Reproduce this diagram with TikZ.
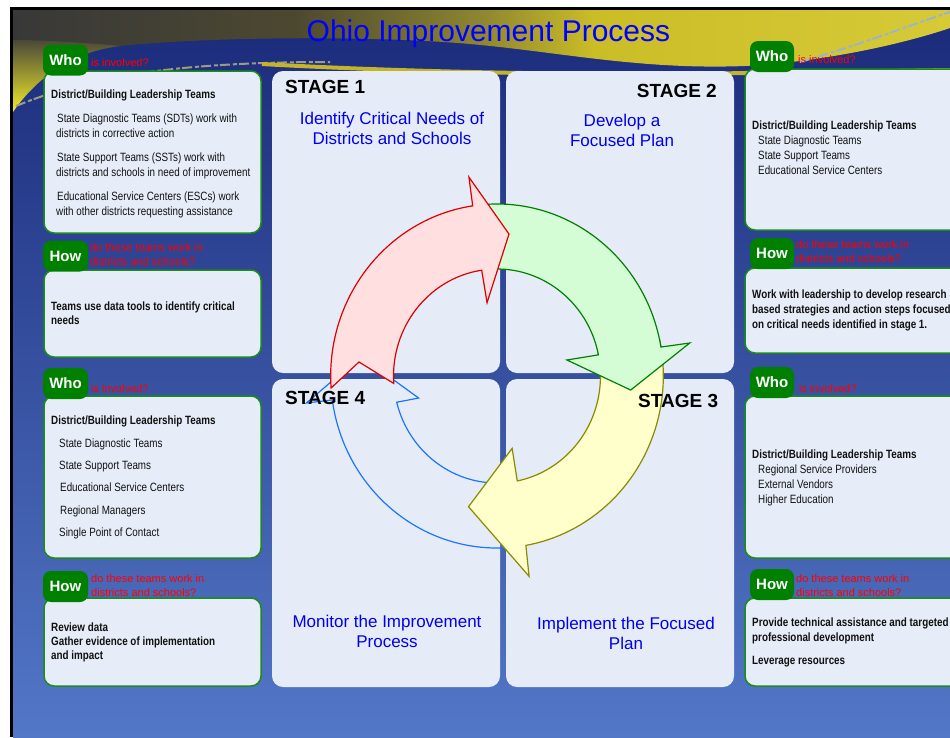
\documentclass[tikz,border=0pt]{standalone}
\usepackage{fontspec}
\setmainfont{Liberation Sans}
\newfontfamily\nar[FakeStretch=0.82]{Liberation Sans}
\definecolor{bgtop}{HTML}{1B2A7A}
\definecolor{bgmid}{HTML}{36509F}
\definecolor{bgbot}{HTML}{5377C7}
\definecolor{tbA}{HTML}{383838}
\definecolor{tbB}{HTML}{4C4830}
\definecolor{tbC}{HTML}{8E8630}
\definecolor{tbD}{HTML}{CBBD26}
\definecolor{tbE}{HTML}{D6CA38}
\definecolor{glowtop}{HTML}{4A4838}
\definecolor{glowbot}{HTML}{F2EC2A}
\definecolor{ystrip}{HTML}{C4B42A}
\definecolor{panelc}{HTML}{E6ECF7}
\definecolor{boxc}{HTML}{E7EDF8}
\definecolor{boxg}{HTML}{1B8C1B}
\definecolor{badgeg}{HTML}{008000}
\definecolor{qred}{HTML}{FF0000}
\definecolor{stblue}{HTML}{0000EE}
\definecolor{ttblue}{HTML}{0000FF}
\definecolor{bodyk}{HTML}{111111}
\definecolor{redS}{HTML}{DD0000}
\definecolor{redF}{HTML}{FFDFE0}
\definecolor{grnS}{HTML}{008000}
\definecolor{grnF}{HTML}{D5FDD5}
\definecolor{yelS}{HTML}{8A8A00}
\definecolor{yelF}{HTML}{FFFFCC}
\definecolor{bluS}{HTML}{1A75FF}
\definecolor{sparkA}{HTML}{9C9C84}
\definecolor{sparkB}{HTML}{9AB4D0}
\pgfdeclarehorizontalshading{topband}{100bp}{color(0bp)=(tbA); color(25bp)=(tbA); color(40bp)=(tbB); color(50bp)=(tbC); color(56bp)=(tbD); color(75bp)=(tbE); color(100bp)=(tbE)}
\begin{document}
\begin{tikzpicture}[x=1pt,y=-1pt,
  panel/.style={fill=panelc, rounded corners=11pt},
  infobox/.style={fill=boxc, draw=boxg, line width=1.5pt, rounded corners=10pt},
  badge/.style={fill=badgeg, rounded corners=8pt, minimum width=45pt, minimum height=31pt, inner sep=0pt, text=white, font=\bfseries\fontsize{15}{15}\selectfont},
  redq/.style={anchor=base west, inner sep=0pt, text=qred, font=\fontsize{11}{11}\selectfont},
  bb/.style={anchor=base west, inner sep=0pt, text=bodyk, font=\nar\bfseries\fontsize{12}{12}\selectfont},
  br/.style={anchor=base west, inner sep=0pt, text=bodyk, font=\nar\fontsize{12}{12}\selectfont},
  stagehd/.style={inner sep=0pt, text=black, font=\bfseries\fontsize{19}{19}\selectfont},
  stagetx/.style={anchor=base, inner sep=0pt, text=stblue, font=\fontsize{17}{17}\selectfont},
  cyc/.style={line width=1.2pt, line join=miter},
  sparkle/.style={line width=2pt, dash pattern=on 10pt off 3pt on 4pt off 2pt}]
\useasboundingbox (0,0) rectangle (950,737);
\clip (0,0) rectangle (950,737);
% ---------- background ----------
\fill[white] (0,0) rectangle (950,737);
\fill[black] (10,7) rectangle (950,737);
\fill[top color=bgtop, middle color=bgmid, bottom color=bgbot] (13,10) rectangle (950,737);
\shade[shading=topband] (13,10) -- (950,10) -- (950,28) .. controls (900,45) and (820,62) .. (745,66)
   .. controls (640,70) and (560,52) .. (470,44) .. controls (380,36) and (220,36) .. (120,46)
   .. controls (70,52) and (35,80) .. (13,112) -- cycle;
\shade[top color=glowtop, bottom color=glowbot] (13,40) -- (13,112) .. controls (35,80) and (70,52) .. (120,46)
   .. controls (80,42) and (40,40) .. (13,40) -- cycle;
\draw[sparkle, sparkA] (16,106) .. controls (80,80) and (160,62) .. (330,62);
\draw[sparkle, sparkB] (800,62) .. controls (860,45) and (910,25) .. (950,12);
\draw[line width=4pt, ystrip] (262,64) .. controls (400,72) and (600,76) .. (745,73) -- (950,70);
% ---------- stage panels ----------
\path[panel] (272,71) rectangle (500,373);
\path[panel] (506,71) rectangle (734,373);
\path[panel] (272,379) rectangle (500,687);
\path[panel] (506,379) rectangle (734,687);
% ---------- info boxes ----------
\path[infobox] (44,71) rectangle (261,233);
\path[infobox] (44,270) rectangle (261,357);
\path[infobox] (44,396) rectangle (261,558);
\path[infobox] (44,598) rectangle (261,686);
\path[infobox] (745,69) rectangle (965,230);
\path[infobox] (745,268) rectangle (965,353);
\path[infobox] (745,396) rectangle (965,558);
\path[infobox] (745,598) rectangle (965,686);
% ---------- badges ----------
\node[badge] (lw1b) at (65.5,60) {Who};
\node[badge] (lh1b) at (65.5,256) {How};
\node[badge] (lw2b) at (65.5,383.5) {Who};
\node[badge] (lh2b) at (65.5,586.5) {How};
\node[badge, minimum width=44pt] (rw1b) at (772,56.5) {Who};
\node[badge, minimum width=44pt] (rh1b) at (772,253.5) {How};
\node[badge, minimum width=44pt] (rw2b) at (772,382.5) {Who};
\node[badge, minimum width=44pt] (rh2b) at (772,584.5) {How};
% ---------- red questions ----------
\node[redq] (lw1q) at (91,66) {is involved?};
\node[redq] (lh1q1) at (90,251) {do these teams work in};
\node[redq] (lh1q2) at (90,265) {districts and schools?};
\node[redq] (lw2q) at (91,392) {is involved?};
\node[redq] (lh2q1) at (91,582) {do these teams work in};
\node[redq] (lh2q2) at (91,596) {districts and schools?};
\node[redq] (rw1q) at (798,63) {is involved?};
\node[redq] (rh1q1) at (796,248) {do these teams work in};
\node[redq] (rh1q2) at (796,262) {districts and schools?};
\node[redq] (rw2q) at (799,392) {is involved?};
\node[redq] (rh2q1) at (796,582) {do these teams work in};
\node[redq] (rh2q2) at (796,596) {districts and schools?};
% ---------- box texts ----------
\node[bb] (a1) at (51,98) {District/Building Leadership Teams};
\node[br] (a2) at (57,122) {State Diagnostic Teams (SDTs) work with};
\node[br] (a3) at (56,137) {districts in corrective action};
\node[br] (a4) at (57,161) {State Support Teams (SSTs) work with};
\node[br] (a5) at (56,176) {districts and schools in need of improvement};
\node[br] (a6) at (57,200) {Educational Service Centers (ESCs) work};
\node[br] (a7) at (56,215) {with other districts requesting assistance};
\node[bb] (b1) at (51,310) {Teams use data tools to identify critical};
\node[bb] (b2) at (51,324) {needs};
\node[bb] (c1) at (51,424) {District/Building Leadership Teams};
\node[br] (c2) at (59,447) {State Diagnostic Teams};
\node[br] (c3) at (59,469) {State Support Teams};
\node[br] (c4) at (60,491) {Educational Service Centers};
\node[br] (c5) at (60,514) {Regional Managers};
\node[br] (c6) at (59,536) {Single Point of Contact};
\node[bb] (d1) at (51,631) {Review data};
\node[bb] (d2) at (51,645) {Gather evidence of implementation};
\node[bb] (d3) at (51,659) {and impact};
\node[bb] (e1) at (752,129) {District/Building Leadership Teams};
\node[br] (e2) at (758,144) {State Diagnostic Teams};
\node[br] (e3) at (758,159) {State Support Teams};
\node[br] (e4) at (758,174) {Educational Service Centers};
\node[bb] (f1) at (752,298) {Work with leadership to develop research};
\node[bb] (f2) at (752,313) {based strategies and action steps focused};
\node[bb] (f3) at (752,328) {on critical needs identified in stage 1.};
\node[bb] (g1) at (752,458) {District/Building Leadership Teams};
\node[br] (g2) at (758,473) {Regional Service Providers};
\node[br] (g3) at (758,488) {External Vendors};
\node[br] (g4) at (758,503) {Higher Education};
\node[bb] (h1) at (752,626) {Provide technical assistance and targeted};
\node[bb] (h2) at (752,641) {professional development};
\node[bb] (h3) at (752,664) {Leverage resources};
% ---------- cycle arrows ----------
\begin{scope}[shift={(497,376)}, yscale=-1, xscale=0.967]
\draw[cyc, bluS] (-85:172) arc[start angle=-85, end angle=-172, radius=172] -- (-172.2:199) -- (-188:142)
   -- (-164.8:84) -- (-165.8:107) arc[start angle=-165.8, end angle=-85, radius=107] -- (-95:140) -- cycle;
\draw[cyc, yelS, fill=yelF] (12:172) arc[start angle=12, end angle=-80, radius=172] -- (-80.6:203) -- (-102.7:134)
   -- (-77.8:74) -- (-78.7:107) arc[start angle=-78.7, end angle=12, radius=107] -- (3:140) -- cycle;
\draw[cyc, grnS, fill=grnF] (97:172) arc[start angle=97, end angle=9.7, radius=172] -- (9.4:202) -- (-5.8:139)
   -- (12.5:74) -- (11.4:107) arc[start angle=11.4, end angle=97, radius=107] -- (88:140) -- cycle;
\draw[cyc, redS, fill=redF] (184:172) arc[start angle=184, end angle=98.4, radius=172] -- (98.3:201) -- (85:142.5)
   -- (98:74) -- (98.5:107) arc[start angle=98.5, end angle=184, radius=107] -- (174.4:143.4) -- cycle;
\end{scope}
% ---------- stage texts ----------
\node[stagehd, anchor=base west] (s1) at (285,93) {STAGE 1};
\node[stagehd, anchor=base east] (s2) at (717,97) {STAGE 2};
\node[stagehd, anchor=base west] (s3) at (638,407) {STAGE 3};
\node[stagehd, anchor=base west] (s4) at (285,404) {STAGE 4};
\node[stagetx] (t1a) at (392,124) {Identify Critical Needs of};
\node[stagetx] (t1b) at (392,144) {Districts and Schools};
\node[stagetx] (t2a) at (622,126) {Develop a};
\node[stagetx] (t2b) at (622,146) {Focused Plan};
\node[stagetx] (t4a) at (387,627) {Monitor the Improvement};
\node[stagetx] (t4b) at (387,647) {Process};
\node[stagetx] (t3a) at (626,629) {Implement the Focused};
\node[stagetx] (t3b) at (626,649) {Plan};
% ---------- title ----------
\node[anchor=base west, inner sep=0pt, text=ttblue, font=\fontsize{30}{30}\selectfont] (title) at (306.5,41.5) {Ohio Improvement Process};
\end{tikzpicture}
\end{document}
